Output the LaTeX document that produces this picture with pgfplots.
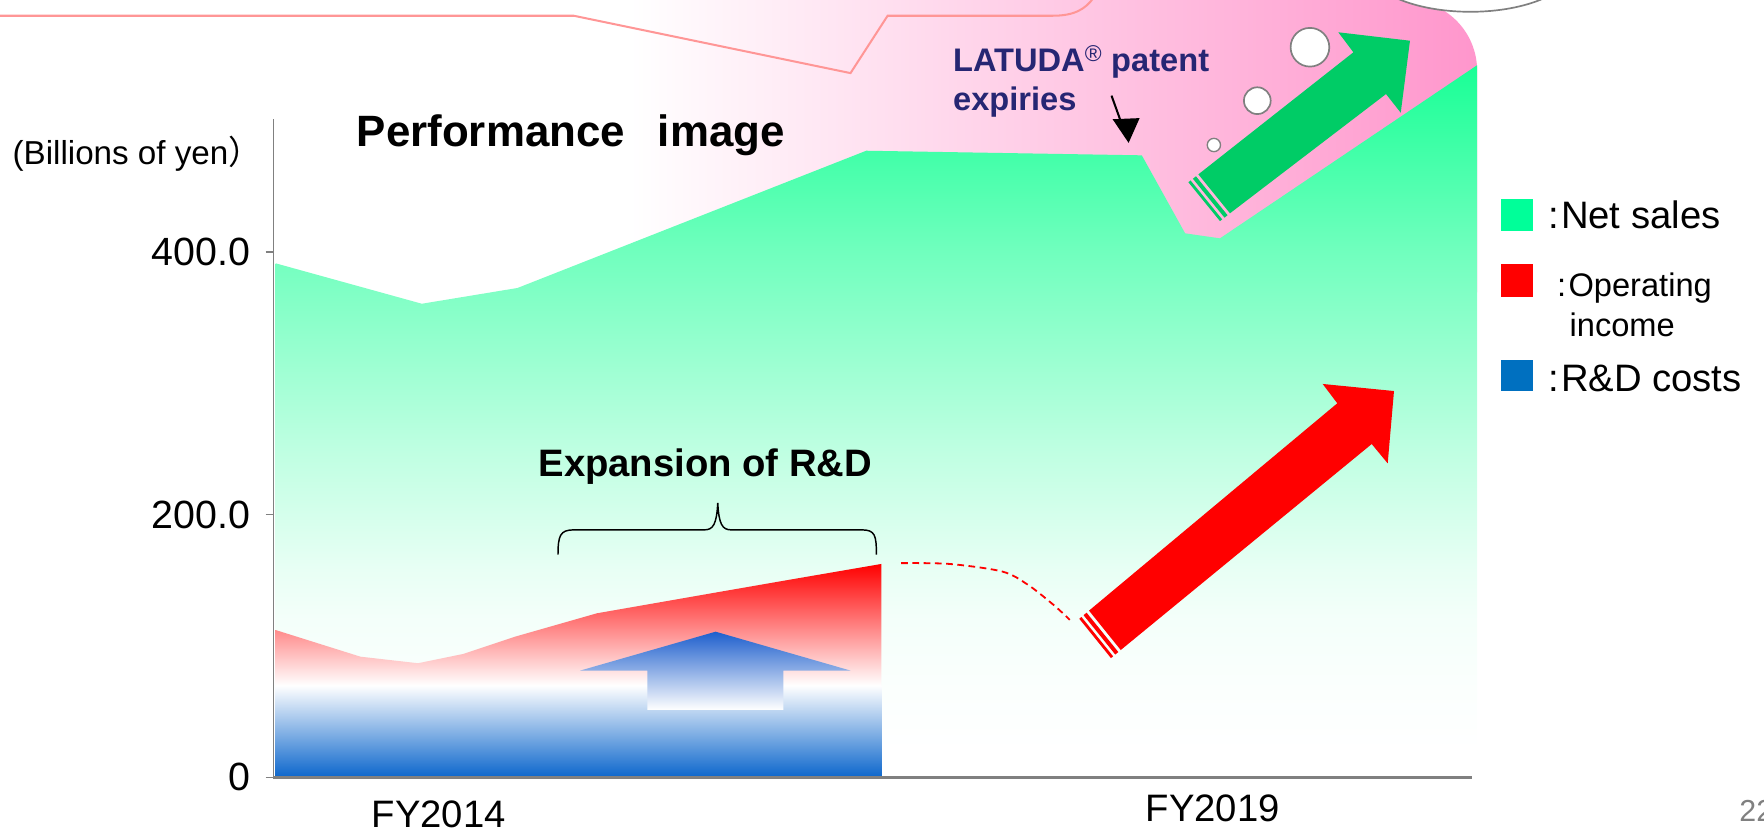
\documentclass[border=0pt]{standalone}
\usepackage{fontspec}
\setmainfont{Liberation Sans}
\newfontfamily\cjk{Noto Sans CJK JP}
\usepackage{pgfplots}
\pgfplotsset{compat=1.18}
\definecolor{nsgreen}{RGB}{25,255,150}
\definecolor{legendgreen}{RGB}{0,255,153}
\definecolor{rdblue}{RGB}{12,102,204}
\definecolor{legblue}{RGB}{0,112,192}
\definecolor{arrowgreen}{RGB}{0,204,102}
\definecolor{pinkc}{RGB}{255,150,204}
\definecolor{salmon}{RGB}{255,150,150}
\definecolor{navy}{RGB}{38,38,115}
\definecolor{arrowblue}{RGB}{30,95,205}
\pgfdeclareverticalshading{nsshade}{100bp}{color(0bp)=(white); color(25bp)=(white); color(26.84bp)=(white); color(31.64bp)=(nsgreen!2!white); color(36.25bp)=(nsgreen!5!white); color(39.57bp)=(nsgreen!10!white); color(47.96bp)=(nsgreen!28!white); color(61.89bp)=(nsgreen!62!white); color(75bp)=(nsgreen); color(100bp)=(nsgreen)}
\newcommand\fs[1]{\fontsize{#1}{#1}\selectfont}

\begin{document}
\begin{tikzpicture}
\useasboundingbox (0,0) rectangle (1568pt,741pt);
\begin{scope}[x=1pt,y=-1pt,yshift=741pt]
\shade[left color=white,right color=pinkc] (560,0) -- (1250,0) .. controls (1285,0) and (1313,28) .. (1313,63) -- (1313,260) -- (560,260) -- cycle;
\end{scope}

\begin{axis}[at={(243pt,50pt)}, anchor=south west, scale only axis,
  width=1070pt, height=630.45pt,
  xmin=2012.932, xmax=2020.708, ymin=0, ymax=540, clip=false,
  axis lines*=left, axis line style={draw=none},
  scaled x ticks=false, scaled y ticks=false,
  xtick={2014,2019}, xticklabels={\raisebox{-5pt}[\height][\depth]{FY2014},FY2019},
  ytick={0,200,400}, yticklabels={0,200.0,400.0},
  tick align=outside, major tick length=7pt,
  xtick style={draw=none}, ytick style={draw=gray, line width=1pt},
  xticklabel style={font=\fs{34}, yshift=-5pt},
  yticklabel style={font=\fs{35}, xshift=-10pt},
  /pgf/number format/assume math mode=true]

% Net sales
\addplot[draw=none, shade, shading=nsshade] coordinates {
 (2012.946,391.4) (2013.891,360.6) (2014.509,372.6) (2016.762,477.1)
 (2018.542,473.6) (2018.822,414.2) (2019.047,410.4) (2020.708,542.2)} \closedcycle;
% R&D costs
\addplot[draw=none, top color=white, bottom color=rdblue] coordinates {
 (2012.946,70) (2016.860,70)} \closedcycle;
% Operating income
\addplot[draw=none, top color=red, bottom color=white] coordinates {
 (2012.946,70) (2012.946,112.2) (2013.494,91.9) (2013.866,86.9) (2014.160,94.0)
 (2014.493,107.1) (2015.021,124.9) (2015.784,140.6) (2016.253,150.2)
 (2016.860,162.5) (2016.860,70)} -- cycle;
% projected operating income (dashed)
\addplot[red, line width=1.6pt, dash pattern=on 6pt off 4pt, smooth] coordinates {
 (2016.987,163.1) (2017.299,162.5) (2017.641,156.7) (2017.808,146.5)
 (2017.975,131.0) (2018.077,119.9)};

\draw[gray, line width=1.3pt] (axis cs:2012.932,0) -- (axis cs:2012.932,501);
\draw[gray, line width=2.4pt] (axis cs:2012.932,0) -- (axis cs:2020.672,0);
\end{axis}

\begin{scope}[x=1pt,y=-1pt,yshift=741pt]
\draw[salmon, line width=1.8pt] (0,14) -- (510,14) -- (756,65) -- (789,14) -- (936,14) .. controls (955,14) and (965,8) .. (972,-2);
\draw[gray, line width=1.5pt, fill=white] (1307,-30) ellipse [x radius=92, y radius=40.5];
\draw[gray, line width=1.5pt, fill=white] (1164.4,42) circle [radius=17.2];
\draw[gray, line width=1.5pt, fill=white] (1117.6,89.5) circle [radius=11.9];
\draw[gray, line width=1.2pt, fill=white] (1079,128.9) circle [radius=5.9];
% green arrow
\fill[arrowgreen] (1065.2,155) -- (1203,46.5) -- (1189.6,28.7) -- (1253.3,36.2) -- (1245.1,100.2) -- (1232,83.6) -- (1093.3,189.6) -- cycle;
\draw[arrowgreen, line width=3.5pt] (1061.7,157.8) -- (1089.8,192.4);
\draw[arrowgreen, line width=2.5pt] (1057.3,161.2) -- (1085.4,195.8);
% red arrow
\fill[red] (968,542.8) -- (1188.7,358.5) -- (1175.7,341.3) -- (1239.1,347.6) -- (1233.5,411.9) -- (1219.3,394.7) -- (996.2,577.8) -- cycle;
\draw[red, line width=3.5pt] (964.5,545.7) -- (992.7,580.7);
\draw[red, line width=2.5pt] (960.3,549.2) -- (988.5,584.2);
% blue arrow
\shade[top color=arrowblue, bottom color=white] (636.1,561.5) -- (756.1,596.1) -- (696.3,596.1) -- (696.3,631.1) -- (575.4,631.1) -- (575.4,596.1) -- (515.6,596.1) -- cycle;
% brace
\draw[black, line width=1.3pt] (496,493) .. controls (496,476) and (498,471) .. (510,471) -- (626,471) .. controls (634,471) and (637,466) .. (638,447) .. controls (639,466) and (642,471) .. (650,471) -- (766,471) .. controls (778,471) and (779,476) .. (779,493);
% black arrow
\draw[line width=1.8pt] (988,85) -- (997,110);
\fill (989,106) -- (1013,105) -- (1003.2,127) -- cycle;
% texts
\node[anchor=base west, inner sep=0] at (11,146) {\fs{29.5}(Billions of yen{\cjk ）}};
\node[anchor=base west, inner sep=0] at (317,130) {\fs{39}\bfseries Performance\hspace{0.75em}image};
\node[anchor=base west, inner sep=0, text=navy] at (847,64) {\fs{29}\bfseries LATUDA\textsuperscript{\mdseries ®} patent};
\node[anchor=base west, inner sep=0, text=navy] at (847,98) {\fs{29}\bfseries expiries};
\node[anchor=base, inner sep=0] at (627,424) {\fs{34}\bfseries Expansion of R\&D};
% legend
\fill[legendgreen] (1334,177) rectangle (1363,205);
\fill[red] (1334,235) rectangle (1363,264);
\fill[legblue] (1334,320) rectangle (1363,348);
\node[anchor=base west, inner sep=0] at (1376,203) {\fs{34}:\kern2pt Net sales};
\node[anchor=base west, inner sep=0] at (1384,264) {\fs{29}:\kern2pt Operating};
\node[anchor=base west, inner sep=0] at (1395,299) {\fs{29}income};
\node[anchor=base west, inner sep=0] at (1376,348) {\fs{34}:\kern2pt R\&D costs};
\node[anchor=base west, inner sep=0, text=gray] at (1546,730) {\fs{27}22};
\end{scope}
\end{tikzpicture}
\end{document}
